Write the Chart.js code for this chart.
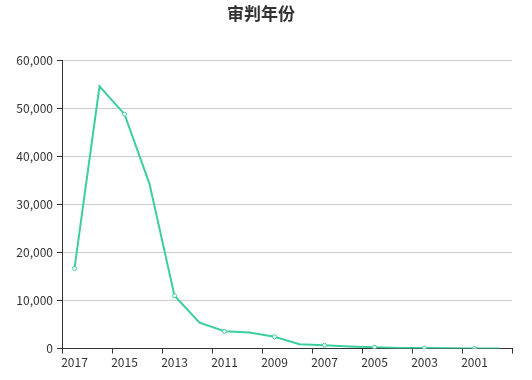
<!DOCTYPE html>
<html>
<head>
<meta charset="utf-8">
<script src="https://cdn.jsdelivr.net/npm/chart.js@4/dist/chart.umd.min.js"></script>
<style>
  html, body { margin: 0; padding: 0; background: #fff; }
  #wrap { width: 532px; height: 380px; }
</style>
</head>
<body>
<div id="wrap"><canvas id="myChart" width="532" height="380"></canvas></div>
<script>
var years = ['2017', '2016', '2015', '2014', '2013', '2012', '2011', '2010', '2009',
             '2008', '2007', '2006', '2005', '2004', '2003', '2002', '2001', '2000'];
var counts = [16700, 54600, 48800, 34300, 11000, 5400, 3600, 3350, 2450,
              900, 700, 450, 300, 150, 100, 60, 40, 20];
var yTicks = [0, 10000, 20000, 30000, 40000, 50000, 60000];

var lineColor = '#3ccf9c';
var axisColor = '#333';
var fontFamily = '"Noto Sans CJK SC", "Microsoft YaHei", sans-serif';

// only every other point gets a marker, like the labels
var radii = years.map(function(y, i) { return i % 2 === 0 ? 2 : 0; });

var ctx = document.getElementById('myChart').getContext('2d');
var myChart = new Chart(ctx, {
  type: 'line',
  data: {
    labels: years,
    datasets: [{
      label: '审判年份',
      data: counts,
      borderColor: lineColor,
      backgroundColor: '#fff',
      borderWidth: 2,
      pointRadius: radii,
      pointBorderWidth: 1,
      pointBorderColor: lineColor,
      pointBackgroundColor: '#fff',
      tension: 0
    }]
  },
  options: {
    responsive: false,
    animation: false,
    layout: { padding: { left: 10, right: 20, top: 0, bottom: 8 } },
    plugins: {
      legend: { display: false },
      tooltip: { enabled: false },
      title: {
        display: true,
        text: '审判年份',
        color: '#333',
        font: { family: fontFamily, size: 17, weight: 'bold' },
        padding: { top: 3, bottom: 37 }
      }
    },
    scales: {
      x: {
        type: 'category',
        offset: true,
        grid: {
          offset: true,
          drawOnChartArea: false,
          drawTicks: true,
          tickLength: 5,
          color: function(c) {
            if (c.index === undefined) return axisColor;
            return c.index % 2 === 0 ? axisColor : 'rgba(0,0,0,0)';
          }
        },
        border: { color: axisColor, width: 1 },
        ticks: {
          autoSkip: false,
          maxRotation: 0,
          padding: 2,
          color: '#333',
          font: { family: fontFamily, size: 12 },
          callback: function(v, i) { return i % 2 === 0 ? years[i] : ''; }
        }
      },
      y: {
        min: 0,
        max: 60000,
        afterBuildTicks: function(scale) {
          scale.ticks = yTicks.map(function(v) { return { value: v }; });
        },
        afterFit: function(scale) { scale.width = 52; },
        grid: {
          color: '#ccc',
          tickColor: axisColor,
          tickLength: 5,
          lineWidth: 1
        },
        border: { color: axisColor, width: 1 },
        ticks: {
          padding: 4,
          color: '#333',
          font: { family: fontFamily, size: 12 },
          callback: function(v) { return v.toLocaleString('en-US'); }
        }
      }
    }
  }
});
</script>
</body>
</html>
